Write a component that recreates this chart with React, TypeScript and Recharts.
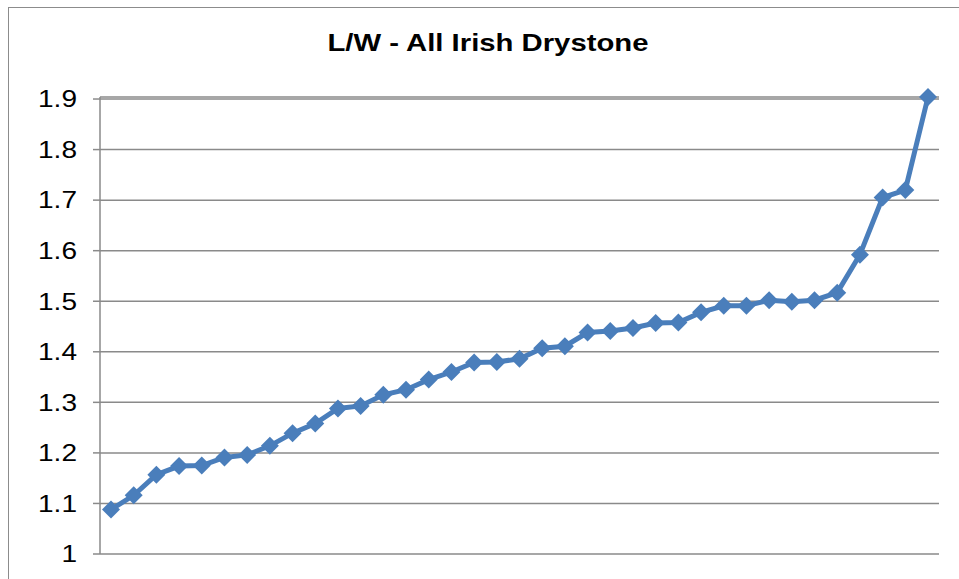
import { LineChart, Line, XAxis, YAxis, CartesianGrid } from "recharts";

// L/W ratio, sorted, one value per drystone site
const lwValues = [
  1.088, 1.116, 1.157, 1.174, 1.175, 1.191, 1.196, 1.214, 1.239, 1.258,
  1.288, 1.293, 1.315, 1.325, 1.345, 1.36, 1.379, 1.38, 1.386, 1.407,
  1.411, 1.438, 1.441, 1.447, 1.457, 1.458, 1.478, 1.491, 1.491, 1.502,
  1.499, 1.502, 1.517, 1.592, 1.705, 1.72, 1.904,
];
const yTicks = [1, 1.1, 1.2, 1.3, 1.4, 1.5, 1.6, 1.7, 1.8, 1.9];
const title = "L/W - All Irish Drystone";

const data = lwValues.map((v, i) => ({ site: i + 1, lw: v }));

const BLUE = "#4a7ebb";
const GRID = "#8a8a8a";
const FONT = "'Liberation Sans', Arial, sans-serif";
const STRETCH = 1.22; // the reference text is drawn a bit wide

const Diamond = (props: any) => {
  const { cx, cy } = props;
  if (cx == null || cy == null) return null;
  const r = 9;
  return (
    <polygon
      points={`${cx},${cy - r} ${cx + r},${cy} ${cx},${cy + r} ${cx - r},${cy}`}
      fill={BLUE}
      stroke="none"
    />
  );
};

const YTick = (props: any) => {
  const { x, y, payload } = props;
  return (
    <g transform={`translate(${x},${y})`}>
      <text
        transform={`scale(${STRETCH},1)`}
        textAnchor="end"
        dy="0.36em"
        fill="#000"
        fontSize={23}
        fontFamily={FONT}
      >
        {String(payload.value)}
      </text>
    </g>
  );
};

export default function App() {
  return (
    <div
      style={{
        position: "absolute",
        left: 0,
        top: 0,
        width: 959,
        height: 579,
        overflow: "hidden",
        background: "#fff",
      }}
    >
      <div
        style={{
          position: "absolute",
          left: 8,
          top: 7,
          width: 1000,
          height: 1000,
          border: "1px solid #8c8c8c",
        }}
      />
      <div
        style={{
          position: "absolute",
          left: 0,
          width: 976,
          top: 29,
          textAlign: "center",
          fontFamily: FONT,
          fontWeight: "bold",
          fontSize: 24,
          color: "#000",
          transform: `scaleX(${STRETCH})`,
          transformOrigin: "488px 0",
        }}
      >
        {title}
      </div>
      <div style={{ position: "absolute", left: 0, top: 0 }}>
        <LineChart
          width={959}
          height={579}
          data={data}
          margin={{ top: 97, right: 20, bottom: 25, left: 0 }}
        >
          <CartesianGrid vertical={false} stroke={GRID} strokeWidth={1.5} />
          <XAxis dataKey="site" hide padding={{ left: 11, right: 11 }} />
          <YAxis
            width={100}
            domain={[1, 1.904]}
            ticks={yTicks}
            interval={0}
            axisLine={{ stroke: GRID, strokeWidth: 1.5 }}
            tickLine={{ stroke: GRID, strokeWidth: 1.5 }}
            tickSize={7}
            tickMargin={16}
            tick={<YTick />}
          />
          <Line
            type="linear"
            dataKey="lw"
            stroke={BLUE}
            strokeWidth={5}
            dot={<Diamond />}
            activeDot={false}
            isAnimationActive={false}
          />
        </LineChart>
      </div>
    </div>
  );
}
